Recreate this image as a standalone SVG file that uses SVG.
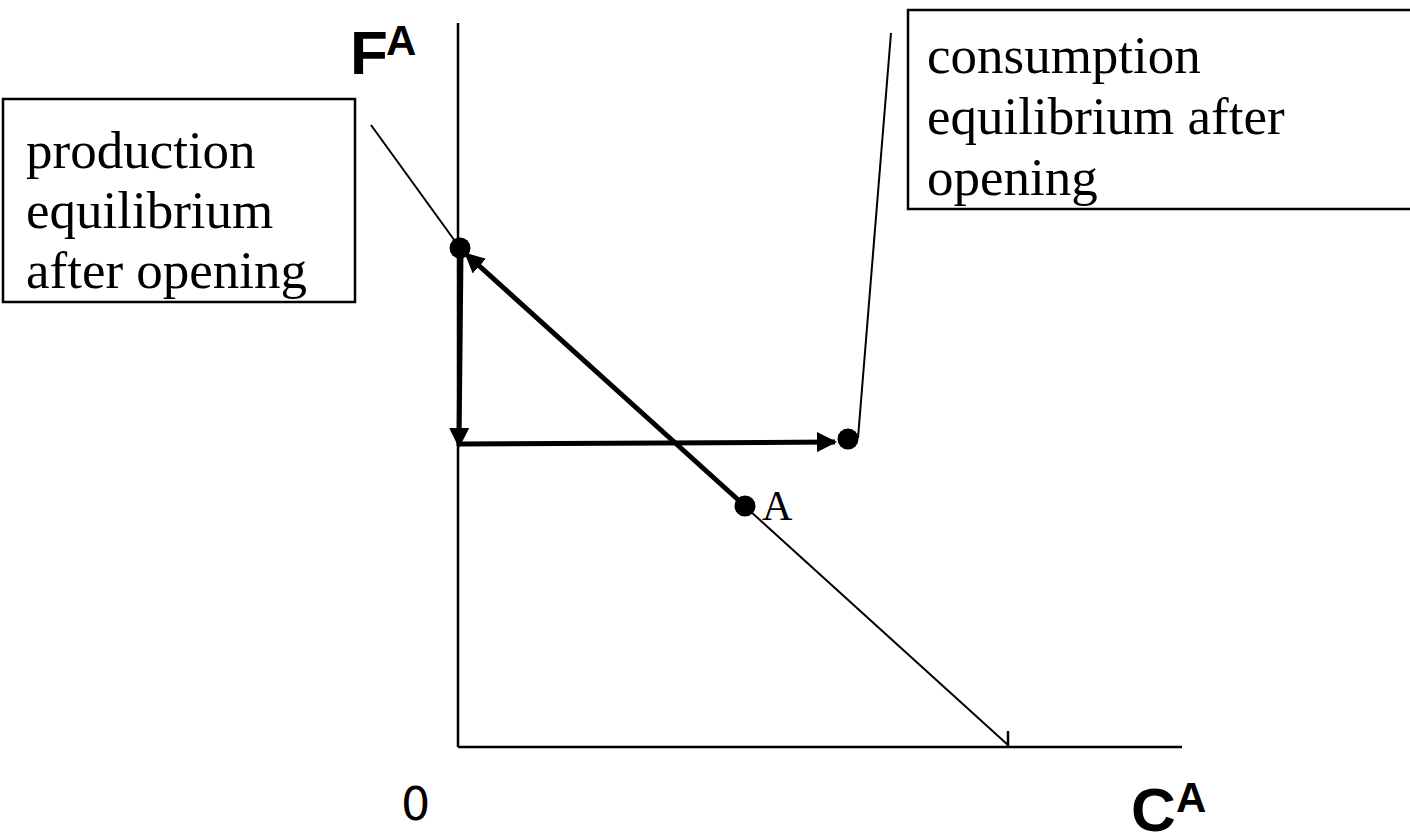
<svg xmlns="http://www.w3.org/2000/svg" width="1410" height="834" viewBox="0 0 1410 834">
<defs>
<style>
.thin{stroke:#000;stroke-width:2;fill:none}
.axis{stroke:#000;stroke-width:2.5;fill:none}
.thick{stroke:#000;stroke-width:5;fill:none}
.box{fill:#fff;stroke:#000;stroke-width:2.5}
.serif{font-family:"Liberation Serif","Times New Roman",serif;font-size:53px;fill:#000}
.axl{font-family:"Liberation Sans",Arial,sans-serif;font-weight:bold;fill:#000}
.dot{fill:#000}
</style>
<marker id="ah" viewBox="0 0 10 10" refX="9" refY="5" markerWidth="4" markerHeight="4" markerUnits="strokeWidth" orient="auto">
<path d="M0,0 L10,5 L0,10 z" fill="#000"/>
</marker>
</defs>
<rect width="1410" height="834" fill="#fff"/>
<g id="connectors">
<line class="axis" x1="458" y1="23" x2="458" y2="747"/>
<line class="axis" x1="458" y1="747" x2="1182" y2="747"/>
<line class="axis" x1="1008" y1="731" x2="1008" y2="747"/>
<line class="thin" x1="371" y1="125" x2="460" y2="248"/>
<line class="thin" x1="460" y1="248" x2="1008" y2="745"/>
<line class="thin" x1="891" y1="33" x2="858" y2="438"/>
<line class="thick" x1="745" y1="506" x2="466" y2="254" marker-end="url(#ah)"/>
<line class="thick" x1="461" y1="252" x2="459" y2="446" marker-end="url(#ah)"/>
<line class="thick" x1="458" y1="444" x2="835" y2="442" marker-end="url(#ah)"/>
</g>
<g id="axis-labels">
<text class="axl" x="350" y="74" font-size="62">F</text>
<text class="axl" x="386" y="55" font-size="42">A</text>
<text class="axl" x="1131" y="831" font-size="62">C</text>
<text class="axl" x="1176" y="812" font-size="42">A</text>
<text x="401" y="820" font-family="'DejaVu Sans','Liberation Sans',sans-serif" font-size="46">0</text>
</g>
<g id="production">
<rect class="box" x="3" y="99" width="352" height="203"/>
<text class="serif" x="26" y="168">production</text>
<text class="serif" x="26" y="228">equilibrium</text>
<text class="serif" x="26" y="288">after opening</text>
</g>
<g id="consumption">
<rect class="box" x="908" y="10" width="520" height="199"/>
<text class="serif" x="927" y="73">consumption</text>
<text class="serif" x="927" y="134">equilibrium after</text>
<text class="serif" x="927" y="195">opening</text>
</g>
<g id="point-prod"><circle class="dot" cx="460" cy="248" r="10.5"/></g>
<g id="point-cons"><circle class="dot" cx="848" cy="439" r="10.5"/></g>
<g id="point-A">
<circle class="dot" cx="745" cy="506" r="10.5"/>
<text x="762" y="520" font-family="'Liberation Serif','Times New Roman',serif" font-size="42">A</text>
</g>
</svg>
